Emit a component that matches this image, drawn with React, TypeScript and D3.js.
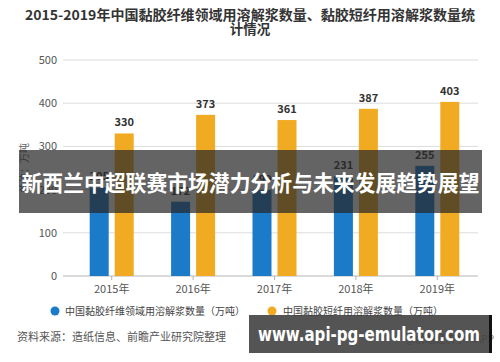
import * as d3 from "d3";

const years = ["2015年", "2016年", "2017年", "2018年", "2019年"];
const viscoseFiber = [205, 172, 199, 231, 255];
const viscoseStaple = [330, 373, 361, 387, 403];
const yTicks = [0, 100, 200, 300, 400, 500];
const seriesNames = ["中国黏胶纤维领域用溶解浆数量（万吨）", "中国黏胶短纤用溶解浆数量（万吨）"];
const colors = ["#1b7bc8", "#f0ab23"];

const W = 500;
const H = 362;
const FONT = "'Noto Sans CJK SC', 'Noto Sans', sans-serif";

export default function App() {
  const x = d3.scaleBand().domain(years).range([71, 478]);
  const y = d3.scaleLinear().domain([0, 500]).range([276, 60]);
  const barW = 19;
  const gap = 6;

  const series = [viscoseFiber, viscoseStaple];

  return (
    <svg
      width={W}
      height={H}
      style={{ position: "absolute", left: 0, top: 0, background: "#fff" }}
      fontFamily={FONT}
    >
      <text x={250} y={20} textAnchor="middle" fontSize={13.5} fontWeight="bold" fill="#333"
        textLength={450} lengthAdjust="spacingAndGlyphs">
        2015-2019年中国黏胶纤维领域用溶解浆数量、黏胶短纤用溶解浆数量统
      </text>
      <text x={250} y={34} textAnchor="middle" fontSize={13.5} fontWeight="bold" fill="#333">
        计情况
      </text>

      {yTicks.map((t) => (
        <g key={t}>
          {t > 0 && <line x1={63} x2={478} y1={y(t)} y2={y(t)} stroke="#dcdcdc" />}
          <text x={57} y={y(t) + 4} textAnchor="end" fontSize={11} fill="#555">
            {t}
          </text>
        </g>
      ))}
      <line x1={63} x2={478} y1={y(0)} y2={y(0)} stroke="#b5b5b5" />
      {years.map((yr) => {
        const cx = (x(yr) || 0) + x.bandwidth() / 2;
        return (
          <g key={yr}>
            <line x1={cx} x2={cx} y1={y(0)} y2={y(0) + 4} stroke="#b5b5b5" />
            <text x={cx} y={y(0) + 17} textAnchor="middle" fontSize={11} fill="#555">
              {yr}
            </text>
          </g>
        );
      })}

      <text
        transform={`translate(28,168) rotate(-90)`}
        textAnchor="middle"
        fontSize={10}
        fill="#666"
      >
        单位：万吨
      </text>

      {series.map((vals, si) =>
        vals.map((v, i) => {
          const cx = (x(years[i]) || 0) + x.bandwidth() / 2;
          const bx = si === 0 ? cx - gap / 2 - barW : cx + gap / 2;
          return (
            <g key={`${si}-${i}`}>
              <rect x={bx} y={y(v)} width={barW} height={y(0) - y(v)} fill={colors[si]} />
              <text
                x={bx + barW / 2}
                y={y(v) - 7}
                textAnchor="middle"
                fontSize={11}
                fontWeight="bold"
                fill="#333"
              >
                {v}
              </text>
            </g>
          );
        })
      )}

      <circle cx={55} cy={311} r={4.5} fill={colors[0]} />
      <text x={65} y={315} fontSize={10} fill="#444">
        {seriesNames[0]}
      </text>
      <circle cx={272} cy={311} r={4.5} fill={colors[1]} />
      <text x={283} y={315} fontSize={10} fill="#444">
        {seriesNames[1]}
      </text>

      <text x={17} y={341} fontSize={11} fill="#555">
        资料来源：造纸信息、前瞻产业研究院整理
      </text>
      <text x={494} y={343} textAnchor="end" fontSize={10} fill="#888">
        @前瞻经济学人APP
      </text>

      <rect x={19} y={150} width={463} height={63} fill="rgba(40,40,40,0.72)" />
      <text x={250.5} y={191} textAnchor="middle" fontSize={22} fontWeight="bold" fill="#fff"
        textLength={458} lengthAdjust="spacingAndGlyphs">
        新西兰中超联赛市场潜力分析与未来发展趋势展望
      </text>

      <rect x={249} y={315} width={241} height={38} fill="rgba(60,60,60,0.88)" />
      <rect x={489} y={315} width={3} height={38} fill="#111" />
      <text x={369} y={341} textAnchor="middle" fontSize={19} fontWeight="bold" fill="#fff"
        fontFamily="'DejaVu Sans', sans-serif" textLength={222} lengthAdjust="spacingAndGlyphs">
        www.api-pg-emulator.com
      </text>
    </svg>
  );
}
